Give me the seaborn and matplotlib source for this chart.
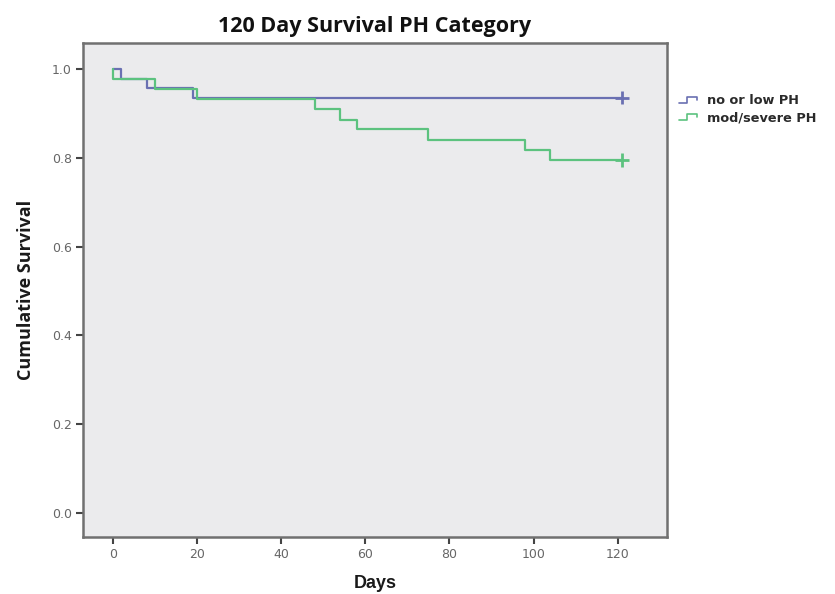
import pandas as pd
import matplotlib.pyplot as plt
import seaborn as sns
from matplotlib.legend_handler import HandlerBase
from matplotlib.lines import Line2D

# Kaplan-Meier steps
low_days = [0, 2, 8, 19, 121]
low_surv = [1.0, 0.978, 0.957, 0.935, 0.935]
sev_days = [0, 0, 10, 20, 48, 54, 58, 75, 98, 104, 121]
sev_surv = [1.0, 0.977, 0.955, 0.932, 0.909, 0.886, 0.864, 0.841, 0.818, 0.795, 0.795]
groups = ["no or low PH", "mod/severe PH"]
censor_day = 121
colors = {"no or low PH": "#6a70b2", "mod/severe PH": "#5cc27f"}

df = pd.concat([
    pd.DataFrame({"Days": low_days, "Survival": low_surv, "Group": groups[0]}),
    pd.DataFrame({"Days": sev_days, "Survival": sev_surv, "Group": groups[1]}),
], ignore_index=True)
cens = pd.DataFrame({"Days": [censor_day, censor_day],
                     "Survival": [low_surv[-1], sev_surv[-1]],
                     "Group": groups})

sns.set_style("white")
fig = plt.figure(figsize=(8.35, 5.94), dpi=100)
ax = fig.add_axes([0.0994, 0.096, 0.6994, 0.8316])
ax.set_facecolor("#ebebed")

sns.lineplot(data=df, x="Days", y="Survival", hue="Group", palette=colors,
             drawstyle="steps-post", estimator=None, sort=False,
             linewidth=1.6, legend=False, ax=ax)
sns.scatterplot(data=cens, x="Days", y="Survival", hue="Group", palette=colors,
                marker="+", s=90, linewidth=2, legend=False, ax=ax, zorder=3)

ax.set_xlim(-7.1, 131.7)
ax.set_ylim(-0.054, 1.0586)
ax.set_xticks([0, 20, 40, 60, 80, 100, 120])
ax.set_yticks([0.0, 0.2, 0.4, 0.6, 0.8, 1.0])
ax.set_yticklabels(["0.0", "0.2", "0.4", "0.6", "0.8", "1.0"])
ax.tick_params(axis="both", direction="out", length=5, width=1.5, color="#444444",
               labelsize=9, labelcolor="#666666", pad=3)
ax.tick_params(left=True, bottom=True)
for s in ax.spines.values():
    s.set_color("#707070")
    s.set_linewidth(1.8)

ax.set_title("120 Day Survival PH Category", fontsize=15.5, fontweight="bold",
             family="Open Sans", color="#111111", pad=8)
ax.set_xlabel("Days", fontsize=13, fontweight="bold", family="Liberation Sans",
              color="#1a1a1a", labelpad=10)
ax.set_ylabel("Cumulative Survival", fontsize=13, fontweight="bold", family="Open Sans",
              color="#1a1a1a", labelpad=12)


class StepHandler(HandlerBase):
    def create_artists(self, legend, orig_handle, xdescent, ydescent, width, height,
                       fontsize, trans):
        xs = [0, 0.45 * width, 0.45 * width, width, width]
        ys = [0.15 * height, 0.15 * height, 0.75 * height, 0.75 * height, 0.45 * height]
        ln = Line2D(xs, ys, color=orig_handle.get_color(), lw=1.2, transform=trans)
        return [ln]


handles = [Line2D([], [], color=colors[g]) for g in groups]
leg = ax.legend(handles, groups, loc="upper left", bbox_to_anchor=(1.0, 0.92),
                frameon=False, handlelength=1.4, handletextpad=0.8,
                labelspacing=0.3, borderaxespad=0.5,
                handler_map={Line2D: StepHandler()},
                prop={"family": "DejaVu Sans", "weight": "bold", "size": 9.3})
for t in leg.get_texts():
    t.set_color("#2a2a2a")

fig.savefig("out.png", dpi=100)
